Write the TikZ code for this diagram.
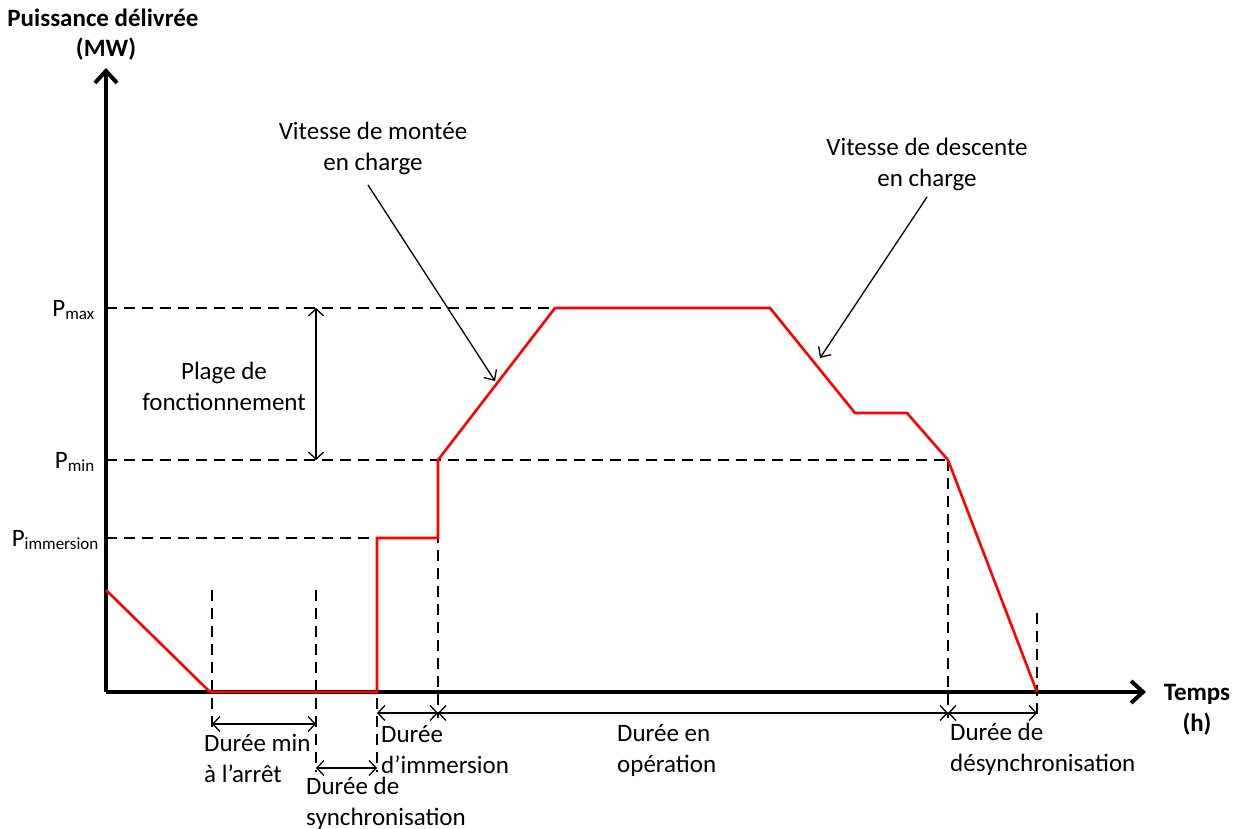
\documentclass[tikz,border=0pt]{standalone}
\usepackage{fontspec}
\setmainfont{Carlito}
\usetikzlibrary{arrows.meta}
\begin{document}
\begin{tikzpicture}[x=1pt,y=-1pt,
  font=\fontsize{25}{31}\selectfont,
  axis/.style={line width=4pt,-{Straight Barb[length=12pt,width=22pt,line width=4pt]}},
  dimarrow/.style={line width=1.3pt,{Straight Barb[length=7pt,width=15pt]}-{Straight Barb[length=7pt,width=15pt]}},
  guide/.style={line width=2.8pt,dash pattern=on 11pt off 7pt},
  curve/.style={red,line width=2.6pt,line join=miter},
  note/.style={line width=1.3pt,-{Straight Barb[length=8pt,width=15pt]}},
  lbl/.style={inner sep=0pt,align=center},
  lbll/.style={inner sep=0pt,align=left,anchor=west},
  bold/.style={inner sep=0pt,align=center,font=\fontsize{25}{31}\selectfont\bfseries}]
\useasboundingbox (0,0) rectangle (1242,829);

% axes
\coordinate (O) at (106,692);
\coordinate (Ytop) at (106,68);
\coordinate (Xend) at (1146,692);
\draw[axis] (O) -- (Ytop);
\draw[axis] (O) -- (Xend);

\node[bold] (ylab1) at (103,18) {Puissance délivrée};
\node[bold] (ylab2) at (106,49) {(MW)};
\node[bold] (xlab1) at (1197,694) {Temps};
\node[bold] (xlab2) at (1197,724) {(h)};

% level labels
\node[inner sep=0pt,anchor=east] (pmax) at (95,310) {P\textsubscript{\fontsize{17}{20}\selectfont max}};
\node[inner sep=0pt,anchor=east] (pmin) at (95,462) {P\textsubscript{\fontsize{17}{20}\selectfont min}};
\node[inner sep=0pt,anchor=east] (pimm) at (99,540) {P\textsubscript{\fontsize{17}{20}\selectfont immersion}};

% curve points
\coordinate (c0) at (106,590);
\coordinate (c1) at (210,692);
\coordinate (c2) at (377,692);
\coordinate (c3) at (377,538);
\coordinate (c4) at (438,538);
\coordinate (c5) at (438,460);
\coordinate (c6) at (555,308);
\coordinate (c7) at (770,308);
\coordinate (c8) at (855,413);
\coordinate (c9) at (907,413);
\coordinate (c10) at (948,460);
\coordinate (c11) at (1037,692);

% horizontal dashed guides
\draw[guide] (O |- c6) -- (c6);
\draw[guide] (O |- c10) -- (c10);
\draw[guide] (O |- c4) -- (c4);

% vertical dashed guides
\coordinate (v1t) at (212,590); \coordinate (v1b) at (212,730);
\coordinate (v2t) at (316,590); \coordinate (v2b) at (316,772);
\coordinate (v3t) at (377,590); \coordinate (v3b) at (377,772);
\coordinate (v4b) at (438,718);
\coordinate (v5b) at (948,718);
\coordinate (v6t) at (1037,613); \coordinate (v6b) at (1037,718);
\draw[guide] (v1t) -- (v1b);
\draw[guide] (v2t) -- (v2b);
\draw[guide] (v3t) -- (v3b);
\draw[guide] (c5) -- (v4b);
\draw[guide] (c10) -- (v5b);
\draw[guide] (v6t) -- (v6b);

% red curve
\draw[curve] (c0) -- (c1) -- (c2) -- (c3) -- (c4) -- (c5) -- (c6) -- (c7) -- (c8) -- (c9) -- (c10) -- (c11);

% dimension arrows
\coordinate (d1a) at (212,724); \coordinate (d1b) at (316,724);
\coordinate (d2a) at (316,768); \coordinate (d2b) at (377,768);
\coordinate (d3a) at (377,713); \coordinate (d3b) at (438,713);
\coordinate (d4b) at (948,713);
\coordinate (d5b) at (1037,713);
\draw[dimarrow] (d1a) -- (d1b);
\draw[dimarrow] (d2a) -- (d2b);
\draw[dimarrow] (d3a) -- (d3b);
\draw[dimarrow] (d3b) -- (d4b);
\draw[dimarrow] (d4b) -- (d5b);

\coordinate (pa) at (316,308); \coordinate (pb) at (316,460);
\draw[dimarrow] (pa) -- (pb);
\node[lbl] (plage) at (224,386) {Plage de\\fonctionnement};

% duration labels
\node[lbll] (dmin) at (204,758) {Durée min\\à l’arrêt};
\node[lbll] (dsync) at (306,803) {Durée de\\synchronisation};
\node[lbll] (dimm) at (381,750) {Durée\\d’immersion};
\node[lbll] (dop) at (617,750) {Durée en\\opération};
\node[lbll] (ddes) at (950,749) {Durée de\\désynchronisation};

% annotations
\node[lbl] (vmont) at (373,148) {Vitesse de montée\\en charge};
\node[lbl] (vdesc) at (927,164) {Vitesse de descente\\en charge};
\coordinate (m1) at (368,185); \coordinate (m2) at (495,381);
\coordinate (e1) at (927,197); \coordinate (e2) at (820,358);
\draw[note] (m1) -- (m2);
\draw[note] (e1) -- (e2);
\end{tikzpicture}
\end{document}
